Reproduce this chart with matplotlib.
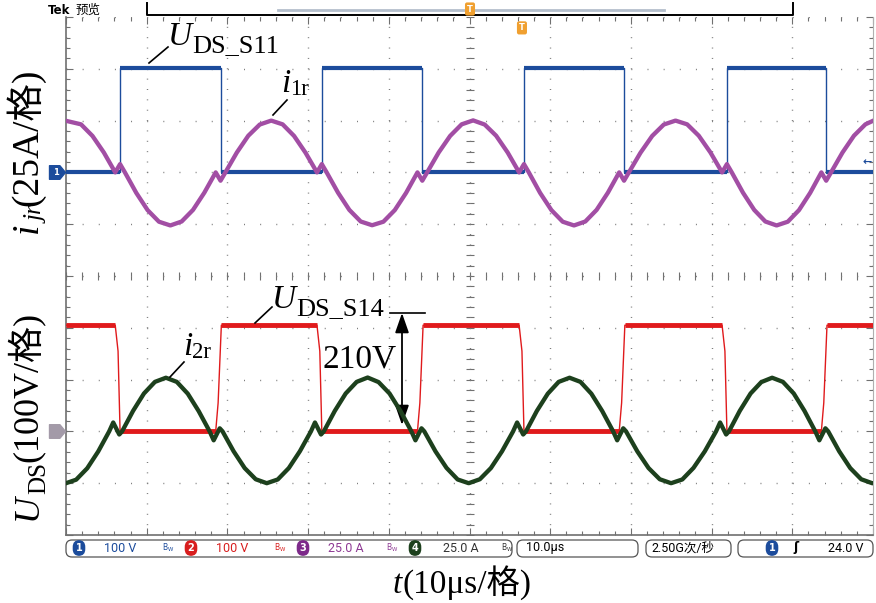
import numpy as np
import matplotlib.pyplot as plt
from matplotlib.lines import Line2D
from matplotlib.patches import FancyBboxPatch
from matplotlib.path import Path
from matplotlib.transforms import Affine2D

W, H = 876, 603

# scope settings: 10 us/div, 10 x 10 divisions, channel scale and ground position (div)
CH1_SCALE, CH1_POS = 100.0, 2.0    # U_DS_S11, V/div
CH2_SCALE, CH2_POS = 100.0, -3.0   # U_DS_S14, V/div
CH3_SCALE, CH3_POS = 25.0, 2.0     # i_1r, A/div
CH4_SCALE, CH4_POS = 25.0, -3.0    # i_2r, A/div

BLUE, RED, PURPLE, GREEN = '#1c4c9c', '#e01a1c', '#a24ea4', '#1d401d'

# --- values (time in us) ---
u_s11_t = [0, 6.7, 6.7, 19.15, 19.15, 31.7, 31.7, 44.15, 44.15, 56.75, 56.75,
           69.15, 69.15, 81.9, 81.9, 94.2, 94.2, 100]
u_s11_v = [0, 0, 202, 202, 0, 0, 202, 202, 0, 0, 202, 202, 0, 0, 202, 202, 0, 0]

u_s14_t = [0, 6.1, 6.45, 6.7, 18.55, 18.85, 19.25, 31.1, 31.45, 31.7, 43.55, 43.85,
           44.25, 56.15, 56.5, 56.75, 68.55, 68.85, 69.25, 81.3, 81.65, 81.9, 93.6,
           93.9, 94.3, 100]
u_s14_v = [205, 205, 155, 0, 0, 55, 205, 205, 155, 0, 0, 55, 205, 205, 155, 0, 0,
           55, 205, 205, 155, 0, 0, 55, 205, 205]

i1r_t = [0, 1.86, 3.28, 4.69, 6.1, 6.7,
         7.3, 8.71, 10.11, 11.52, 12.93, 14.33, 15.74, 17.14, 18.55, 19.15,
         19.75, 21.17, 22.59, 24.01, 25.43, 26.84, 28.26, 29.68, 31.1, 31.7,
         32.3, 33.71, 35.11, 36.52, 37.93, 39.33, 40.74, 42.14, 43.55, 44.15,
         44.75, 46.18, 47.6, 49.03, 50.45, 51.88, 53.3, 54.73, 56.15, 56.75,
         57.35, 58.75, 60.15, 61.55, 62.95, 64.35, 65.75, 67.15, 68.55, 69.15,
         69.75, 71.19, 72.64, 74.08, 75.53, 76.97, 78.41, 79.86, 81.3, 81.9,
         82.5, 83.89, 85.28, 86.66, 88.05, 89.44, 90.83, 92.21, 93.6, 94.2,
         94.8, 96.22, 97.64, 99.06, 100]
i1r_a = [24.9, 23.2, 17.6, 9.6, 0, 4.0,
         0, -9.9, -18.2, -23.8, -25.6, -23.7, -18.1, -9.8, 0, -4.0,
         0, 9.6, 17.7, 23.1, 25.0, 23.2, 17.6, 9.5, 0, 4.0,
         0, -9.8, -18.1, -23.7, -25.5, -23.8, -18.2, -9.9, 0, -4.0,
         0, 9.6, 17.6, 23.2, 25.1, 23.1, 17.7, 9.6, 0, 4.0,
         0, -9.9, -18.2, -23.8, -25.6, -23.7, -18.1, -9.8, 0, -4.0,
         0, 9.5, 17.6, 23.1, 25.0, 23.2, 17.7, 9.6, 0, 4.0,
         0, -9.8, -18.1, -23.7, -25.6, -23.8, -18.2, -9.9, 0, -4.0,
         0, 9.6, 17.7, 23.2, 24.9]

i2r_t = [0, 1.26, 2.63, 3.99, 5.35, 5.85, 6.6, 6.95,
         8.31, 9.66, 11.02, 12.38, 13.73, 15.09, 16.44, 17.8, 18.3, 19.05, 19.4,
         20.77, 22.14, 23.51, 24.88, 26.24, 27.61, 28.98, 30.35, 30.85, 31.6, 31.95,
         33.31, 34.66, 36.02, 37.38, 38.73, 40.09, 41.44, 42.8, 43.3, 44.05, 44.4,
         45.78, 47.15, 48.53, 49.9, 51.28, 52.65, 54.03, 55.4, 55.9, 56.65, 57.0,
         58.35, 59.7, 61.05, 62.4, 63.75, 65.1, 66.45, 67.8, 68.3, 69.05, 69.4,
         70.79, 72.19, 73.58, 74.98, 76.37, 77.76, 79.16, 80.55, 81.05, 81.8, 82.15,
         83.49, 84.83, 86.16, 87.5, 88.84, 90.18, 91.51, 92.85, 93.35, 94.1, 94.45,
         95.81, 97.18, 98.54, 99.9, 100]
i2r_a = [-25.0, -23.3, -17.8, -9.7, 0, 4.3, -1.5, 0,
         9.9, 18.3, 23.9, 25.9, 23.9, 18.2, 9.8, 0, -4.3, 1.5, 0,
         -9.6, -17.7, -23.1, -25.0, -23.2, -17.7, -9.6, 0, 4.3, -1.5, 0,
         9.9, 18.3, 23.9, 26.0, 23.8, 18.3, 9.9, 0, -4.3, 1.5, 0,
         -9.6, -17.6, -23.2, -25.0, -23.1, -17.7, -9.6, 0, 4.3, -1.5, 0,
         9.9, 18.2, 23.9, 25.9, 23.9, 18.2, 9.8, 0, -4.3, 1.5, 0,
         -9.6, -17.7, -23.1, -25.0, -23.2, -17.6, -9.6, 0, 4.3, -1.5, 0,
         9.9, 18.3, 23.8, 25.9, 23.9, 18.3, 9.9, 0, -4.3, 1.5, 0,
         -9.6, -17.7, -23.1, -25.0, -25.0]

# status bar readouts
ch_labels = ['100 V', '100 V', '25.0 A', '25.0 A']
timebase, sample_rate, trig_level = '10.0µs', '2.50G次/秒', '24.0 V'

SERIF = ['Liberation Serif', 'Noto Sans CJK SC']
SCOPE = ['Roboto', 'Noto Sans CJK SC']

fig = plt.figure(figsize=(W / 100, H / 100), dpi=100)
ax = fig.add_axes([66 / W, (H - 535) / H, 807 / W, 518 / H])
PX = Affine2D().scale(1 / W, 1 / H) + fig.transFigure   # figure pixels, y up
renderer = fig.canvas.get_renderer()


def to_div(v, scale, pos):
    return pos + np.asarray(v, dtype=float) / scale


def square_trace(t, v, scale, pos, color, lw_flat):
    t = np.asarray(t, dtype=float)
    y = to_div(v, scale, pos)
    ax.plot(t, y, color=color, lw=1.0, zorder=3)
    flat = (np.diff(y) == 0) & (np.diff(t) > 0)
    ax.hlines(y[:-1][flat], t[:-1][flat], t[1:][flat], color=color, lw=lw_flat, zorder=3)


# graticule
ax.set_xlim(0, 100)
ax.set_ylim(-5, 5)
ax.set_xticks(np.arange(0, 101, 10))
ax.set_xticks(np.arange(0, 101, 2), minor=True)
ax.set_yticks(np.arange(-5, 6, 1))
ax.set_yticks(np.arange(-5, 5.01, 0.2), minor=True)
ax.tick_params(which='both', direction='in', top=True, right=True,
               labelbottom=False, labelleft=False, color='#707070', width=0.8)
ax.tick_params(which='major', length=5)
ax.tick_params(which='minor', length=3)
ax.xaxis.grid(True, which='major', color='#7a7a7a', lw=1.0, linestyle=(0, (0.7, 6.76)))
ax.yaxis.grid(True, which='major', color='#7a7a7a', lw=1.0, linestyle=(0, (0.7, 10.92)))
ax.plot(np.arange(0, 100.1, 2), np.zeros(51), ls='none', marker='|', ms=6,
        mew=0.8, color='#707070', zorder=1)
ax.plot(np.full(51, 50.0), np.arange(-5, 5.01, 0.2), ls='none', marker='_', ms=6,
        mew=0.8, color='#707070', zorder=1)
ax.spines['top'].set_visible(False)
ax.spines['right'].set_color('#b0b0b0')
for side in ('left', 'bottom'):
    ax.spines[side].set_color('#707070')
    ax.spines[side].set_linewidth(1.2)

# waveforms
square_trace(u_s11_t, u_s11_v, CH1_SCALE, CH1_POS, BLUE, 3.0)
square_trace(u_s14_t, u_s14_v, CH2_SCALE, CH2_POS, RED, 3.5)
ax.plot(i1r_t, to_div(i1r_a, CH3_SCALE, CH3_POS), color=PURPLE, lw=3.1,
        solid_joinstyle='round', zorder=4)
ax.plot(i2r_t, to_div(i2r_a, CH4_SCALE, CH4_POS), color=GREEN, lw=3.1,
        solid_joinstyle='round', zorder=4)

# ground markers and trigger markers
gnd = Path([(-1, -0.85), (0.3, -0.85), (1, 0), (0.3, 0.85), (-1, 0.85), (-1, -0.85)], closed=True)
ax.plot([-1.1], [CH1_POS], marker=gnd, ms=11.5, color=BLUE, clip_on=False, zorder=6)
ax.text(-1.3, CH1_POS, '1', color='white', fontsize=6, fontweight='bold',
        ha='center', va='center', clip_on=False, zorder=7)
ax.plot([-1.1], [CH2_POS], marker=gnd, ms=11.5, color='#a39aa8', clip_on=False, zorder=6)
ax.text(99.3, 2.2, '←', color=BLUE, fontsize=8, fontweight='bold', ha='center', va='center')
ax.text(56.5, 4.79, 'T', color='white', fontsize=6, fontweight='bold', ha='center',
        va='center', bbox=dict(boxstyle='round,pad=0.25', fc='#f0a030', ec='none'))

# top bar
fig.text(48, H - 10, 'Tek', transform=PX, fontsize=8.5, fontweight='bold',
         family='DejaVu Sans', va='center')
fig.text(76, H - 10, '预览', transform=PX, fontsize=9, family='Noto Sans CJK SC', va='center')
fig.add_artist(Line2D([147, 147, 793, 793], [H - 3, H - 15, H - 15, H - 3],
                      transform=PX, color='black', lw=1.4))
fig.add_artist(Line2D([278, 664], [H - 10, H - 10], transform=PX, color='#b4bfcc', lw=2))
fig.text(470, H - 9, 'T', transform=PX, color='white', fontsize=6, fontweight='bold',
         ha='center', va='center', bbox=dict(boxstyle='round,pad=0.25', fc='#f0a030', ec='none'))


# labels and annotations (positions in image pixels, y down)
def chain(x, y, pieces, rotation=0):
    y = H - y
    for s, size, style, shift in pieces:
        px, py = (x, y + shift) if rotation == 0 else (x - shift, y)
        t = fig.text(px, py, s, transform=PX, fontsize=size, fontstyle=style,
                     family=SERIF, rotation=rotation, rotation_mode='anchor',
                     ha='left', va='baseline')
        bb = t.get_window_extent(renderer)
        if rotation == 0:
            x = bb.x1
        else:
            y = bb.y1


def seg(x0, y0, x1, y1, lw=1.2):
    fig.add_artist(Line2D([x0, x1], [H - y0, H - y1], transform=PX, color='black', lw=lw))


chain(168, 45, [('U', 24, 'italic', 0), ('DS_S11', 19, 'normal', -7)])
seg(149, 63, 168, 47)
chain(281, 92, [('i', 24, 'italic', 0), ('1r', 16.5, 'normal', -3)])
seg(273, 115, 287, 100)
chain(272, 308, [('U', 24, 'italic', 0), ('DS_S14', 19, 'normal', -7)])
seg(255, 323, 272, 307)
seg(390, 313, 425, 313)
chain(183, 355, [('i', 24, 'italic', 0), ('2r', 16.5, 'normal', -3)])
seg(170, 377, 184, 362)
chain(322, 368, [('210V', 24, 'normal', 0)])
ax.annotate('', xy=(402, H - 425), xytext=(402, H - 313), xycoords='figure pixels',
            textcoords='figure pixels',
            arrowprops=dict(arrowstyle='<|-|>,head_length=1.2,head_width=0.42',
                            mutation_scale=10, color='black', lw=1.3,
                            shrinkA=0, shrinkB=0))

chain(37, 233, [('i', 27, 'italic', 0), ('jr', 18, 'italic', -7), ('(25A/格)', 27, 'normal', 0)],
      rotation=90)
chain(37, 520, [('U', 26, 'italic', 0), ('DS', 18, 'normal', -8), ('(100V/格)', 26, 'normal', 0)],
      rotation=90)
chain(393, 593, [('t', 24, 'italic', 0), ('(10μs/格)', 24, 'normal', 0)])

# status bar
for x0, x1 in [(66, 512), (517, 638), (646, 731), (738, 873)]:
    fig.add_artist(FancyBboxPatch((x0, H - 557), x1 - x0, 17, transform=PX,
                                  boxstyle='round,pad=0,rounding_size=6',
                                  fc='white', ec='#555555', lw=0.9))
sy = H - 548
badge_x = [79, 191, 303, 415]
label_x = [104, 216, 328, 443]
icon_x = [168, 280, 392, 507]
badge_c = [BLUE, '#d81e1e', '#7d2a8a', GREEN]
text_c = [BLUE, '#d81e1e', '#8e3a94', '#333333']
for k in range(4):
    fig.text(badge_x[k], sy, str(k + 1), transform=PX, color='white', fontsize=7,
             fontweight='bold', ha='center', va='center',
             bbox=dict(boxstyle='round,pad=0.3,rounding_size=0.7', fc=badge_c[k], ec='none'))
    fig.text(label_x[k], sy, ch_labels[k], transform=PX, color=text_c[k], fontsize=9,
             family=SCOPE, va='center')
    fig.text(icon_x[k], sy, r'$\mathregular{B_W}$', transform=PX, color=text_c[k],
             fontsize=5.5, ha='center', va='center')
fig.text(526, sy, timebase, transform=PX, fontsize=9, family=SCOPE, va='center')
fig.text(651, sy, sample_rate, transform=PX, fontsize=9, family=SCOPE, va='center')
fig.text(772, sy, '1', transform=PX, color='white', fontsize=7, fontweight='bold',
         ha='center', va='center',
         bbox=dict(boxstyle='round,pad=0.3,rounding_size=0.7', fc=BLUE, ec='none'))
fig.text(796, sy, 'ʃ', transform=PX, fontsize=9, fontweight='bold', ha='center', va='center')
fig.text(828, sy, trig_level, transform=PX, fontsize=9, family=SCOPE, va='center')

fig.savefig('out.png', dpi=100, facecolor='white')
